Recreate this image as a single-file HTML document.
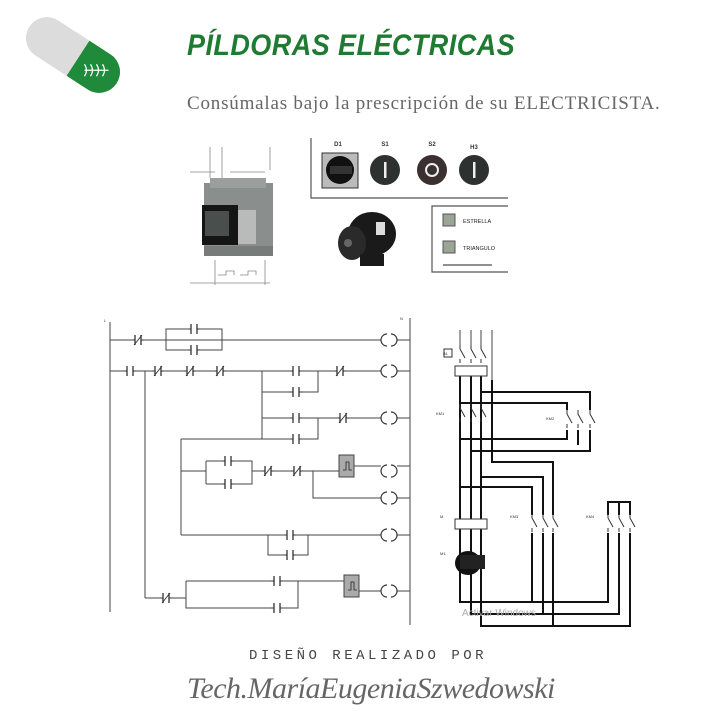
<!DOCTYPE html>
<html><head><meta charset="utf-8"><style>
html,body{margin:0;padding:0;background:#fff;}
body{width:720px;height:720px;position:relative;overflow:hidden;font-family:"Liberation Sans",sans-serif;}
.t{position:absolute;white-space:nowrap;}
</style></head><body>
<svg width="720" height="720" style="position:absolute;left:0;top:0" xmlns="http://www.w3.org/2000/svg">
<defs>
<g id="no"><rect x="-5" y="-6" width="10" height="12" fill="#fff"/><line x1="-6" y1="0" x2="-3" y2="0" stroke="#333"/><line x1="3" y1="0" x2="6" y2="0" stroke="#333"/><line x1="-3" y1="-5" x2="-3" y2="5" stroke="#333" stroke-width="1.3"/><line x1="3" y1="-5" x2="3" y2="5" stroke="#333" stroke-width="1.3"/></g>
<g id="nc"><use href="#no"/><line x1="-4" y1="5" x2="4" y2="-5" stroke="#333"/></g>
<g id="coil"><rect x="-8" y="-7" width="16" height="14" fill="#fff"/><path d="M-2,-6 A6,6 0 0 0 -2,6 M2,-6 A6,6 0 0 1 2,6" fill="none" stroke="#333" stroke-width="1.2"/></g>
<g id="sw"><line x1="0" y1="-8" x2="0" y2="-4" stroke="#333"/><line x1="0" y1="-4" x2="5" y2="5" stroke="#333"/><line x1="0" y1="6" x2="0" y2="10" stroke="#333"/></g>
</defs>
<g transform="translate(73,55) rotate(33)">
<clipPath id="pc"><rect x="-52" y="-21" width="104" height="42" rx="21"/></clipPath>
<g clip-path="url(#pc)"><rect x="-52" y="-21" width="104" height="42" fill="#dcdcdc"/><rect x="6" y="-21" width="50" height="42" fill="#1e8a3a"/></g>
<g transform="translate(28,0) rotate(-33)" stroke="#fff" fill="none" stroke-width="1.2"><path d="M-12,-6 q4,6 0,12 M-6,-6 q4,6 0,12 M0,-6 q4,6 0,12 M6,-6 q4,6 0,12 M-12,0 H12"/></g>
</g>
<g stroke="#888" stroke-width="0.8" fill="none">
<line x1="210" y1="147" x2="210" y2="178"/><line x1="222" y1="147" x2="222" y2="178"/><line x1="270" y1="147" x2="270" y2="170"/>
<line x1="190" y1="172" x2="215" y2="172"/><line x1="230" y1="172" x2="265" y2="172"/>
<line x1="215" y1="260" x2="215" y2="285"/><line x1="265" y1="260" x2="265" y2="285"/><line x1="190" y1="283" x2="270" y2="283"/>
<path d="M218,275 h8 v-4 h8 v4 M240,275 h8 v-4 h8 v4"/>
</g>
<rect x="204" y="183" width="69" height="73" fill="#8a8e8c"/>
<rect x="210" y="178" width="56" height="10" fill="#9a9e9c"/>
<rect x="202" y="205" width="36" height="40" fill="#151515"/>
<rect x="205" y="211" width="24" height="25" fill="#4a4e4c"/>
<rect x="238" y="210" width="18" height="34" fill="#b8bbb9"/>
<rect x="204" y="246" width="69" height="10" fill="#777b79"/>
<path d="M311,138 V198 H508" stroke="#555" stroke-width="1.2" fill="none"/>
<g font-size="6" fill="#333" text-anchor="middle" font-weight="bold"><text x="338" y="146">D1</text><text x="385" y="146">S1</text><text x="432" y="146">S2</text><text x="474" y="149">H3</text></g>
<rect x="322" y="153" width="36" height="35" fill="#bbb" stroke="#333"/>
<circle cx="340" cy="170" r="14" fill="#111"/><rect x="330" y="166" width="22" height="8" fill="#333"/>
<circle cx="385" cy="170" r="15" fill="#2d312f"/><rect x="384" y="162" width="2.5" height="16" fill="#eee"/>
<circle cx="432" cy="170" r="15" fill="#3a3030"/><circle cx="432" cy="170" r="6" fill="none" stroke="#eee" stroke-width="2"/>
<circle cx="474" cy="170" r="15" fill="#2d312f"/><rect x="473" y="162" width="2.5" height="16" fill="#eee"/>
<ellipse cx="372" cy="234" rx="24" ry="22" fill="#1a1a1a"/><ellipse cx="352" cy="243" rx="14" ry="17" fill="#2a2a2a"/><circle cx="348" cy="243" r="4" fill="#666"/><rect x="360" y="254" width="24" height="12" fill="#1a1a1a"/><rect x="376" y="222" width="9" height="13" fill="#ddd"/>
<path d="M508,206 H432 V272 H508" stroke="#555" stroke-width="1.2" fill="none"/>
<rect x="443" y="214" width="12" height="12" fill="#9aa598" stroke="#555"/><rect x="443" y="241" width="12" height="12" fill="#9aa598" stroke="#555"/>
<text x="463" y="223" font-size="5.5" fill="#222">ESTRELLA</text><text x="463" y="250" font-size="5.5" fill="#222">TRIANGULO</text>
<line x1="443" y1="265" x2="492" y2="265" stroke="#222"/>
<g stroke="#444" stroke-width="1" fill="none">
<line x1="110" y1="322" x2="110" y2="612"/><line x1="410" y1="318" x2="410" y2="625"/>
<line x1="110" y1="340" x2="410" y2="340"/><path d="M166,340 V329 H222 V340 M166,340 V350 H222 V340"/>
<line x1="110" y1="371" x2="410" y2="371"/><path d="M262,371 V439 M262,392 H318 V371 M262,418 H410 M262,439 H318 V418"/>
<line x1="145" y1="371" x2="145" y2="598"/>
<path d="M181,439 H262 M181,439 V535 M181,471 H206 M206,461 V484 M206,461 H252 V484 H206 M252,471 H339 M354,466 H410 M313,471 V498 H410"/>
<path d="M181,535 H410 M268,535 V555 H308 V535"/>
<path d="M145,598 H186 M186,581 V608 H298 V581 H186 M298,581 H344 M359,591 H410"/>
</g>
<rect x="339" y="455" width="15" height="22" fill="#aaa" stroke="#444"/><path d="M343,470 h3 v-8 h3 v8 h3" stroke="#222" fill="none" stroke-width=".8"/>
<rect x="344" y="575" width="15" height="22" fill="#aaa" stroke="#444"/><path d="M348,590 h3 v-8 h3 v8 h3" stroke="#222" fill="none" stroke-width=".8"/>
<use href="#nc" x="138" y="340"/><use href="#no" x="194" y="329"/><use href="#no" x="194" y="350"/><use href="#coil" x="389" y="340"/>
<use href="#no" x="130" y="371"/><use href="#nc" x="158" y="371"/><use href="#nc" x="190" y="371"/><use href="#nc" x="220" y="371"/><use href="#no" x="296" y="371"/><use href="#nc" x="340" y="371"/><use href="#coil" x="389" y="371"/>
<use href="#no" x="296" y="392"/><use href="#no" x="296" y="418"/><use href="#nc" x="343" y="418"/><use href="#coil" x="389" y="418"/><use href="#no" x="296" y="439"/>
<use href="#no" x="228" y="461"/><use href="#no" x="228" y="484"/><use href="#nc" x="268" y="471"/><use href="#nc" x="297" y="471"/><use href="#coil" x="389" y="471"/><use href="#coil" x="389" y="498"/>
<use href="#no" x="290" y="535"/><use href="#no" x="290" y="555"/><use href="#coil" x="389" y="535"/>
<use href="#nc" x="166" y="598"/><use href="#no" x="277" y="581"/><use href="#no" x="277" y="608"/><use href="#coil" x="389" y="591"/>
<g stroke="#111" stroke-width="2" fill="none">
<path d="M460,370 V602 H608 V533 M471,370 V614 H619 V533 M481,370 V626 H630 V533"/>
<path d="M481,392 H590 V410 M460,403 H567 V410 M567,430 V439 H460 M590,430 V451 H471 M578,430 V445"/>
<path d="M492,380 V462 H553 V515 M481,477 H543 V515 M460,487 H532 V515"/>
<path d="M532,533 V602 M543,533 V614 M553,533 V626"/>
<path d="M608,515 V502 H630 V515 M619,502 V515"/>
</g>
<g stroke="#444" stroke-width="1" fill="none"><path d="M460,330 V345 M471,330 V345 M481,330 V345 M492,330 V380"/></g>
<use href="#sw" x="460" y="353"/><use href="#sw" x="471" y="353"/><use href="#sw" x="481" y="353"/>
<use href="#sw" x="460" y="412"/><use href="#sw" x="471" y="412"/><use href="#sw" x="481" y="412"/>
<use href="#sw" x="567" y="418"/><use href="#sw" x="578" y="418"/><use href="#sw" x="590" y="418"/>
<use href="#sw" x="532" y="522"/><use href="#sw" x="543" y="522"/><use href="#sw" x="553" y="522"/>
<use href="#sw" x="608" y="522"/><use href="#sw" x="619" y="522"/><use href="#sw" x="630" y="522"/>
<rect x="455" y="366" width="32" height="10" fill="#fff" stroke="#333"/><rect x="444" y="349" width="8" height="8" fill="none" stroke="#333"/>
<rect x="455" y="519" width="32" height="10" fill="#fff" stroke="#333"/>
<ellipse cx="468" cy="563" rx="13" ry="12" fill="#111"/><rect x="460" y="555" width="25" height="14" fill="#222"/>
<g font-size="4" fill="#333"><text x="443" y="355">B1</text><text x="436" y="415">KM1</text><text x="546" y="420">KM2</text><text x="510" y="518">KM3</text><text x="586" y="518">KM4</text><text x="440" y="518">M</text><text x="440" y="555">M1</text><text x="104" y="322">L</text><text x="400" y="320">N</text></g>
</svg>
<div class="t" style="left:187px;top:29px;font-size:30px;font-weight:bold;font-style:italic;color:#1f7a32;letter-spacing:0.5px;transform:scaleX(0.9);transform-origin:left">PÍLDORAS ELÉCTRICAS</div>
<div class="t" style="left:187px;top:93px;font-family:'Liberation Serif',serif;font-size:19px;color:#666;letter-spacing:0.8px">Consúmalas bajo la prescripción de su ELECTRICISTA.</div>
<div class="t" style="left:462px;top:608px;font-size:10px;color:#aaa">Activar Windows</div>
<div class="t" style="left:249px;top:648px;font-family:'Liberation Mono',monospace;font-size:14px;color:#444;letter-spacing:3.5px">DISEÑO REALIZADO POR</div>
<div class="t" style="left:187px;top:672px;font-family:'Liberation Serif',serif;font-style:italic;font-size:30px;color:#666;letter-spacing:-0.5px">Tech.MaríaEugeniaSzwedowski</div>
</body></html>
